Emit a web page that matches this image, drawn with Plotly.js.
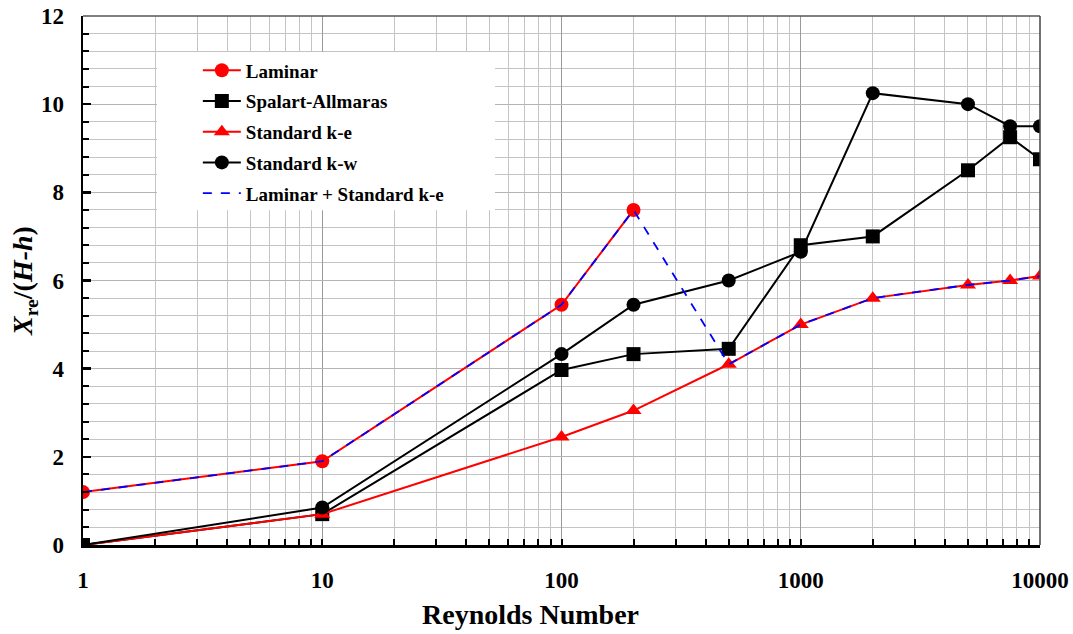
<!DOCTYPE html>
<html>
<head>
<meta charset="utf-8">
<script src="https://cdn.plot.ly/plotly-3.0.1.min.js"></script>
<style>
html,body{margin:0;padding:0;background:#fff;}
#chart{width:1073px;height:634px;}
</style>
</head>
<body>
<div id="chart"></div>
<script>
// Data
const reLaminar = [1, 10, 100, 200];
const laminar = [1.2, 1.9, 5.45, 7.6];

const reTurb = [1, 10, 100, 200, 500, 1000, 2000, 5000, 7500, 10000];
const spalartAllmaras = [0, 0.7, 3.97, 4.33, 4.45, 6.8, 7.0, 8.5, 9.25, 8.75];
const reKe = [1, 10, 100, 200, 500, 1000, 2000, 5000, 7500, 10000];
const standardKe = [0, 0.7, 2.45, 3.05, 4.1, 5.0, 5.6, 5.9, 6.0, 6.1];
const standardKw = [0, 0.85, 4.33, 5.45, 6.0, 6.65, 10.25, 10.0, 9.5, 9.5];

const reCombined = [1, 10, 100, 200, 500, 1000, 2000, 5000, 7500, 10000];
const laminarKe = [1.2, 1.9, 5.45, 7.6, 4.1, 5.0, 5.6, 5.9, 6.0, 6.1];

const xTickVals = [1, 10, 100, 1000, 10000];
const xTickText = ['1', '10', '100', '1000', '10000'];

const serif = 'Liberation Serif';

const traces = [
  {x: reLaminar, y: laminar, name: 'Laminar', mode: 'lines+markers', legendgroup: 'a',
   line: {color: '#ff0000', width: 2}, marker: {symbol: 'circle', size: 14, color: '#ff0000'}},
  {x: reTurb, y: spalartAllmaras, name: 'Spalart-Allmaras', mode: 'lines+markers', legendgroup: 'b',
   line: {color: '#000000', width: 2}, marker: {symbol: 'square', size: 14, color: '#000000'}},
  {x: reKe, y: standardKe, name: 'Standard k-e', mode: 'lines+markers', legendgroup: 'c',
   line: {color: '#ff0000', width: 2}, marker: {symbol: 'triangle-up', size: 14, color: '#ff0000'}},
  {x: reTurb, y: standardKw, name: 'Standard k-w', mode: 'lines+markers', legendgroup: 'd',
   line: {color: '#000000', width: 2}, marker: {symbol: 'circle', size: 14, color: '#000000'}},
  {x: reCombined, y: laminarKe, name: 'Laminar + Standard k-e', mode: 'lines', legendgroup: 'e',
   line: {color: '#0000ff', width: 1.8, dash: 'dash'}}
];

const layout = {
  width: 1073, height: 634,
  paper_bgcolor: '#ffffff', plot_bgcolor: '#ffffff',
  margin: {l: 83, r: 33, t: 16, b: 89},
  font: {family: serif, color: '#000', size: 22},
  showlegend: true,
  legend: {
    x: 0.12, y: 0.933, xanchor: 'left', yanchor: 'top',
    bgcolor: 'rgba(0,0,0,0)', borderwidth: 0,
    font: {family: serif, size: 19, color: '#000', weight: 'bold'},
    traceorder: 'grouped', tracegroupgap: 3,
    itemwidth: 38
  },
  xaxis: {
    type: 'log', range: [0, 4],
    tickvals: xTickVals, ticktext: xTickText,
    ticks: 'inside', ticklen: 0, tickwidth: 2, tickcolor: '#000',
    showline: true, linecolor: '#000', linewidth: 2.5,
    showgrid: true, gridcolor: '#9a9a9a', gridwidth: 1,
    tickfont: {family: serif, size: 23, weight: 'bold'},
    ticklabelstandoff: 13,
    minor: {dtick: 'D1', ticks: 'inside', ticklen: 6, tickwidth: 2, tickcolor: '#000',
            showgrid: true, gridcolor: '#c4c4c4', gridwidth: 1},
    zeroline: false
  },
  yaxis: {
    range: [0, 12], dtick: 2, tick0: 0,
    ticks: 'inside', ticklen: 8, tickwidth: 2.5, tickcolor: '#000',
    showline: true, linecolor: '#000', linewidth: 2.5,
    showgrid: true, gridcolor: '#b4b4b4', gridwidth: 1,
    tickfont: {family: serif, size: 23, weight: 'bold'},
    ticklabelstandoff: 12,
    minor: {dtick: 0.4, ticks: 'inside', ticklen: 6, tickwidth: 2, tickcolor: '#000',
            showgrid: true, gridcolor: '#c4c4c4', gridwidth: 1},
    zeroline: false,
    title: {text: '<b><i>X</i><sub>re</sub>/(<i>H-h</i>)</b>', font: {family: serif, size: 28}, standoff: 0}
  },
  annotations: [
    {text: '<b>Reynolds Number</b>', xref: 'paper', yref: 'paper', x: 0.468, y: -0.132,
     xanchor: 'center', yanchor: 'middle', showarrow: false, font: {family: serif, size: 28, color: '#000'}}
  ],
  shapes: [
    {type: 'rect', xref: 'paper', yref: 'paper', x0: 0.0773, x1: 0.4305, y0: 0.633, y1: 0.932,
     fillcolor: '#ffffff', line: {width: 0}, layer: 'above'},
    {type: 'line', xref: 'paper', yref: 'paper', x0: 0, x1: 1, y0: 1, y1: 1, line: {color: '#555', width: 1.5}},
    {type: 'line', xref: 'paper', yref: 'paper', x0: 1, x1: 1, y0: 0, y1: 1, line: {color: '#444', width: 1.5}}
  ]
};

Plotly.newPlot('chart', traces, layout, {displayModeBar: false, staticPlot: true});
</script>
</body>
</html>
